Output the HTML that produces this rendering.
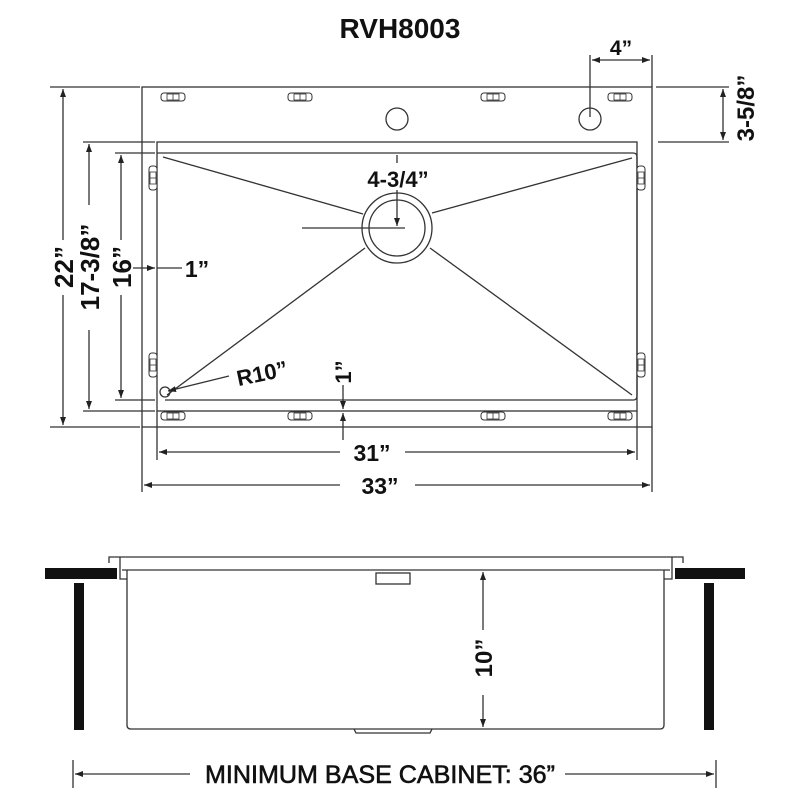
<!DOCTYPE html>
<html><head><style>
html,body{margin:0;padding:0;background:#fff;}
svg{display:block;}
text{font-family:"Liberation Sans",sans-serif;font-weight:bold;fill:#111;}
</style></head><body>
<svg width="800" height="800" viewBox="0 0 800 800" xmlns="http://www.w3.org/2000/svg">
<defs>
<marker id="a" markerWidth="8" markerHeight="6" refX="8" refY="3" orient="auto-start-reverse" markerUnits="userSpaceOnUse"><path d="M0,0 L8,3 L0,6 z" fill="#222"/></marker>
<g id="clip"><rect x="-12" y="-4" width="24" height="8" rx="3" fill="#fff" stroke="#333" stroke-width="1"/><rect x="-6" y="-3" width="12" height="6" fill="none" stroke="#333" stroke-width="0.8"/><line x1="0" y1="-3" x2="0" y2="3" stroke="#333" stroke-width="0.8"/></g>
<g id="vclip"><rect x="-4" y="-12" width="8" height="24" rx="3" fill="#fff" stroke="#333" stroke-width="1"/><rect x="-3" y="-6" width="6" height="12" fill="none" stroke="#333" stroke-width="0.8"/><line x1="-3" y1="0" x2="3" y2="0" stroke="#333" stroke-width="0.8"/></g>
</defs>
<text x="400" y="38" font-size="28" text-anchor="middle">RVH8003</text>
<g stroke="#333" stroke-width="1.3" fill="none">
<rect x="142" y="87" width="510" height="340"/>
<rect x="157" y="142" width="480" height="269"/>
<path d="M157,153 H633 Q637,153 637,157 V396 Q637,400 633,400 H165"/>
<line x1="163" y1="157" x2="363" y2="214"/>
<line x1="167" y1="395" x2="365" y2="248"/>
<line x1="632" y1="158" x2="432" y2="213"/>
<line x1="632" y1="395" x2="430" y2="248"/>
<circle cx="397" cy="228" r="35"/>
<circle cx="397" cy="228" r="28"/>
<line x1="302" y1="228" x2="405" y2="228"/>
<circle cx="397" cy="119" r="11"/>
<circle cx="590" cy="119" r="11"/>
<circle cx="165" cy="392" r="5"/>
<line x1="50" y1="87" x2="140" y2="87"/><line x1="50" y1="427" x2="140" y2="427"/>
<line x1="63" y1="89" x2="63" y2="240" marker-start="url(#a)"/><line x1="63" y1="295" x2="63" y2="425" marker-end="url(#a)"/>
<line x1="83" y1="142" x2="155" y2="142"/><line x1="83" y1="411" x2="155" y2="411"/>
<line x1="89" y1="144" x2="89" y2="205" marker-start="url(#a)"/><line x1="89" y1="330" x2="89" y2="409" marker-end="url(#a)"/>
<line x1="115" y1="153" x2="155" y2="153"/><line x1="115" y1="400" x2="155" y2="400"/>
<line x1="121" y1="155" x2="121" y2="240" marker-start="url(#a)"/><line x1="121" y1="295" x2="121" y2="398" marker-end="url(#a)"/>
<line x1="133" y1="268" x2="155" y2="268" marker-end="url(#a)"/><line x1="157" y1="268" x2="182" y2="268"/>
<line x1="397" y1="155" x2="397" y2="163"/>
<line x1="397" y1="190" x2="397" y2="226" marker-end="url(#a)"/>
<line x1="343" y1="385" x2="343" y2="409" marker-end="url(#a)"/><line x1="343" y1="413" x2="343" y2="440" marker-start="url(#a)"/>
<line x1="229" y1="376" x2="168" y2="391" marker-end="url(#a)"/>
<line x1="590" y1="55" x2="590" y2="117"/><line x1="652" y1="55" x2="652" y2="87"/>
<line x1="592" y1="60" x2="650" y2="60" marker-start="url(#a)" marker-end="url(#a)"/>
<line x1="656" y1="87" x2="729" y2="87"/><line x1="658" y1="142" x2="729" y2="142"/>
<line x1="723" y1="89" x2="723" y2="140" marker-start="url(#a)" marker-end="url(#a)"/>
<line x1="142" y1="427" x2="142" y2="492"/><line x1="652" y1="427" x2="652" y2="492"/>
<line x1="157" y1="411" x2="157" y2="460"/><line x1="637" y1="411" x2="637" y2="460"/>
<line x1="159" y1="452" x2="340" y2="452" marker-start="url(#a)"/><line x1="405" y1="452" x2="635" y2="452" marker-end="url(#a)"/>
<line x1="144" y1="485" x2="340" y2="485" marker-start="url(#a)"/><line x1="415" y1="485" x2="650" y2="485" marker-end="url(#a)"/>
</g>
<use href="#clip" x="173" y="97"/><use href="#clip" x="300" y="97"/><use href="#clip" x="493" y="97"/><use href="#clip" x="620" y="97"/>
<use href="#clip" x="173" y="416"/><use href="#clip" x="300" y="416"/><use href="#clip" x="493" y="416"/><use href="#clip" x="620" y="416"/>
<use href="#vclip" x="153" y="178"/><use href="#vclip" x="153" y="365"/><use href="#vclip" x="641" y="178"/><use href="#vclip" x="641" y="365"/>
<text x="398" y="187" font-size="22" text-anchor="middle">4-3/4”</text>
<text x="197" y="277" font-size="23" text-anchor="middle">1”</text>
<text x="262" y="381" font-size="22" text-anchor="middle" transform="rotate(-12 262 373)">R10”</text>
<text x="0" y="0" font-size="22" text-anchor="middle" transform="translate(351 372) rotate(-90)">1”</text>
<text x="621" y="55" font-size="21" text-anchor="middle">4”</text>
<text x="0" y="0" font-size="24" text-anchor="middle" transform="translate(754 108) rotate(-90)">3-5/8”</text>
<text x="0" y="0" font-size="26" text-anchor="middle" transform="translate(73 267) rotate(-90)">22”</text>
<text x="0" y="0" font-size="26" text-anchor="middle" transform="translate(99 267) rotate(-90)">17-3/8”</text>
<text x="0" y="0" font-size="26" text-anchor="middle" transform="translate(131 267) rotate(-90)">16”</text>
<text x="372" y="461" font-size="23" text-anchor="middle">31”</text>
<text x="380" y="494" font-size="23" text-anchor="middle">33”</text>
<g stroke="#333" stroke-width="1.3" fill="none">
<path d="M109,563 V557 H683 V563"/>
<line x1="122" y1="570" x2="670" y2="570"/>
<path d="M120,557 V579 H127 M672,557 V579 H664"/>
<path d="M127,570 V725 Q127,729 131,729 H660 Q664,729 664,725 V570"/>
<rect x="376" y="573" width="34" height="11"/>
<path d="M354,729 L356,733 H430 L432,729"/>
<line x1="483" y1="572" x2="483" y2="630" marker-start="url(#a)"/><line x1="483" y1="695" x2="483" y2="727" marker-end="url(#a)"/>
<line x1="73" y1="760" x2="73" y2="788"/><line x1="716" y1="760" x2="716" y2="788"/>
<line x1="75" y1="774" x2="190" y2="774" marker-start="url(#a)"/><line x1="565" y1="774" x2="714" y2="774" marker-end="url(#a)"/>
</g>
<rect x="45" y="568" width="72" height="11" fill="#111"/>
<rect x="675" y="568" width="70" height="11" fill="#111"/>
<rect x="74" y="583" width="10" height="147" fill="#111"/>
<rect x="704" y="583" width="10" height="147" fill="#111"/>
<text x="0" y="0" font-size="24" text-anchor="middle" transform="translate(492 658) rotate(-90)">10”</text>
<text x="205" y="783" font-size="25" textLength="350" lengthAdjust="spacingAndGlyphs" style="font-weight:normal;stroke:#111;stroke-width:0.6">MINIMUM BASE CABINET: 36”</text>
</svg>
</body></html>
